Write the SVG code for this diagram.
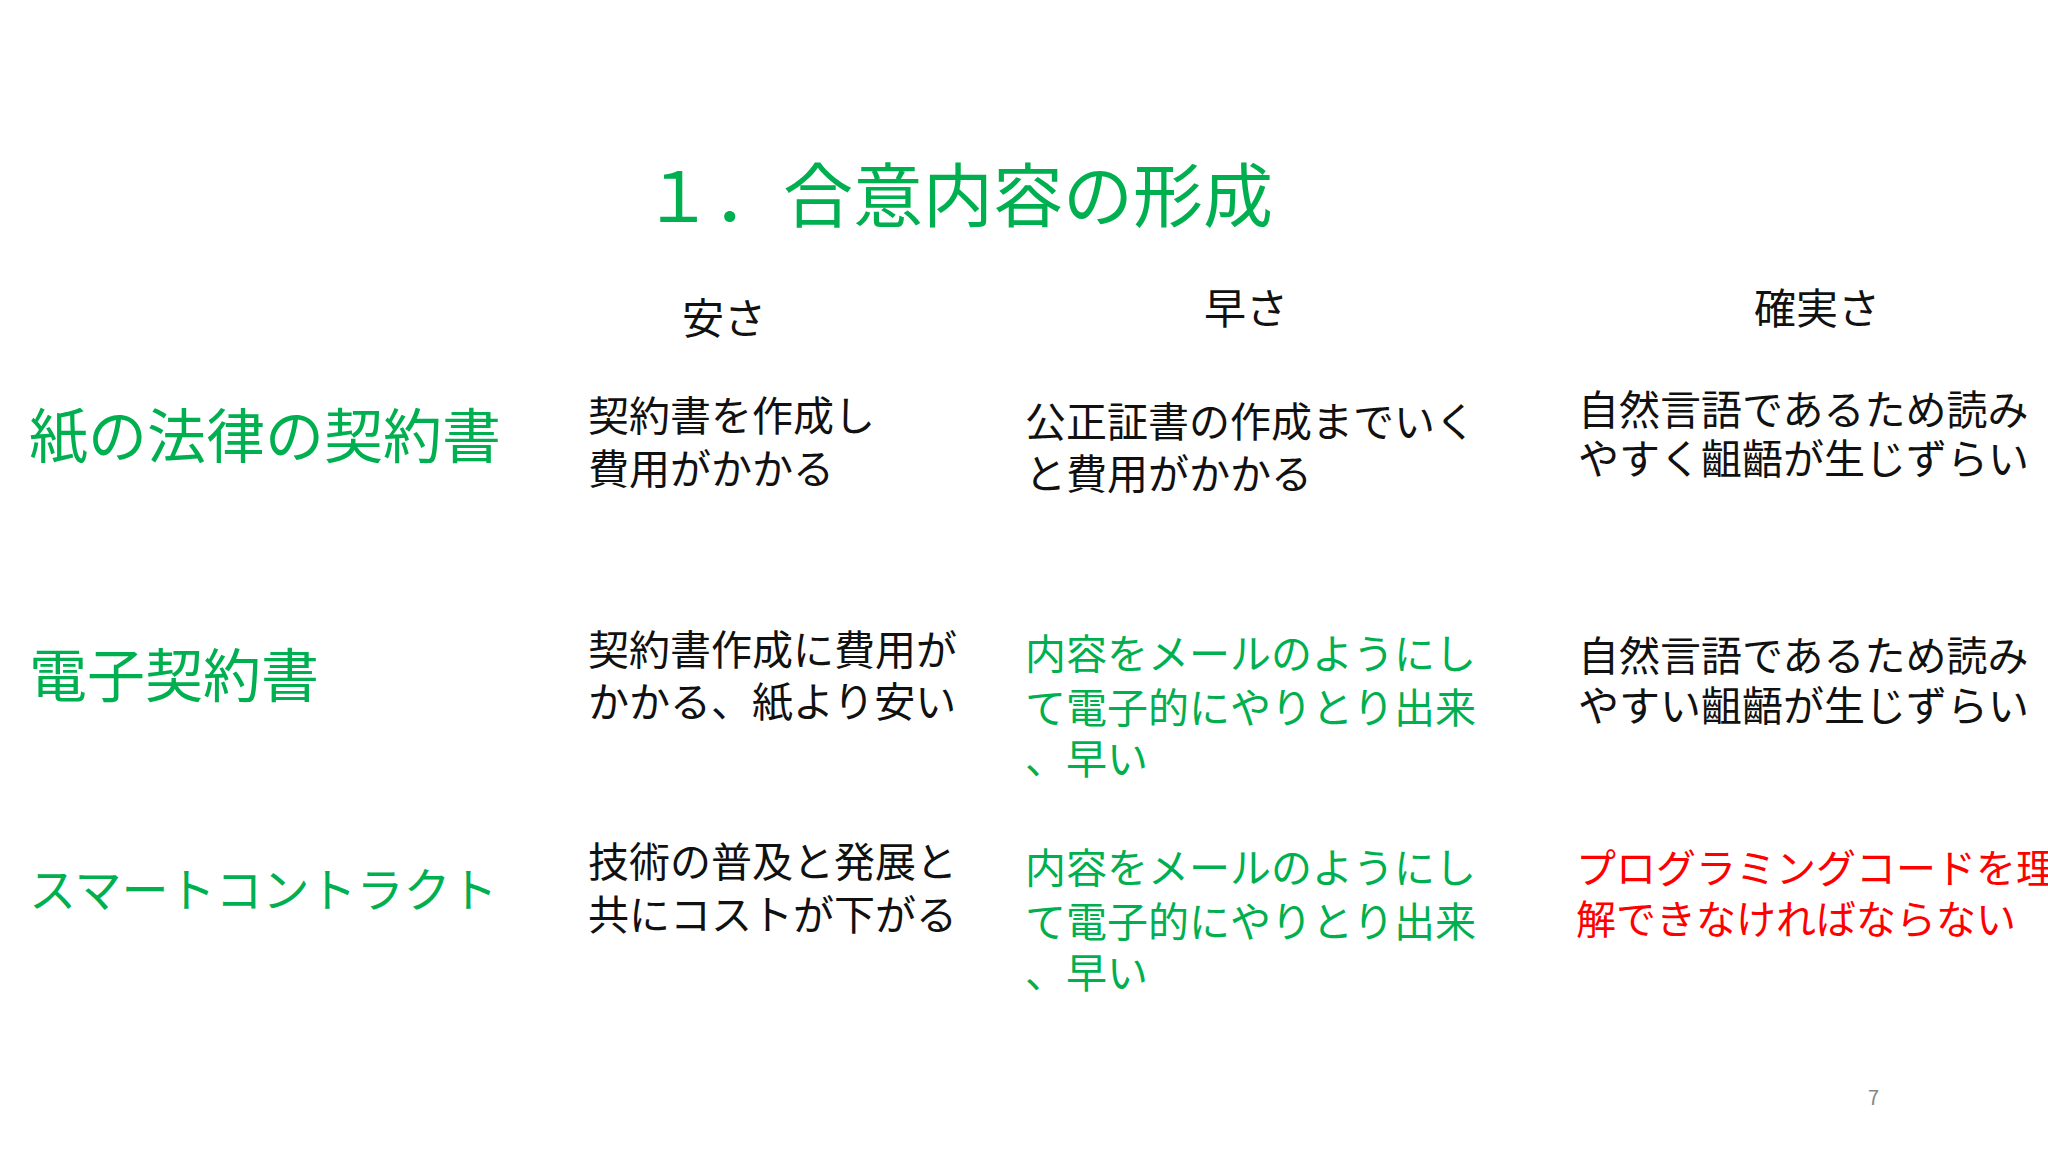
<svg xmlns="http://www.w3.org/2000/svg" width="2048" height="1151" viewBox="0 0 2048 1151">
<style>
text{font-family:"Noto Sans CJK JP","Noto Sans",sans-serif;}
.t{fill:#00B050;font-size:70px;}
.h{fill:#111;font-size:42px;}
.r{fill:#00B050;font-size:58px;}
.b{fill:#111;font-size:41px;}
.g{fill:#00B050;font-size:41px;}
.red{fill:#FF0000;font-size:40px;}
</style>
<rect width="2048" height="1151" fill="#fff"/>
<g id="title"><text class="t" x="643" y="222">１．合意内容の形成</text></g>
<g id="headers">
<text class="h" x="682" y="334">安さ</text>
<text class="h" x="1204" y="324">早さ</text>
<text class="h" x="1754" y="324">確実さ</text>
</g>
<g id="row1">
<text class="r" x="29" y="458" style="font-size:59px">紙の法律の契約書</text>
<text class="b" x="588" y="431">契約書を作成し</text>
<text class="b" x="588" y="484">費用がかかる</text>
<text class="b" x="1025" y="437">公正証書の作成までいく</text>
<text class="b" x="1025" y="489">と費用がかかる</text>
<text class="b" x="1578" y="425">自然言語であるため読み</text>
<text class="b" x="1578" y="474">やすく齟齬が生じずらい</text>
</g>
<g id="row2">
<text class="r" x="29" y="697">電子契約書</text>
<text class="b" x="588" y="665">契約書作成に費用が</text>
<text class="b" x="588" y="717">かかる、紙より安い</text>
<text class="g" x="1025" y="669">内容をメールのようにし</text>
<text class="g" x="1025" y="723">て電子的にやりとり出来</text>
<text class="g" x="1025" y="774">、早い</text>
<text class="b" x="1578" y="671">自然言語であるため読み</text>
<text class="b" x="1578" y="721">やすい齟齬が生じずらい</text>
</g>
<g id="row3">
<text class="r" x="29" y="907" style="font-size:47px">スマートコントラクト</text>
<text class="b" x="588" y="877">技術の普及と発展と</text>
<text class="b" x="588" y="930">共にコストが下がる</text>
<text class="g" x="1025" y="883">内容をメールのようにし</text>
<text class="g" x="1025" y="937">て電子的にやりとり出来</text>
<text class="g" x="1025" y="988">、早い</text>
<text class="red" x="1576" y="883">プログラミングコードを理</text>
<text class="red" x="1576" y="934">解できなければならない</text>
</g>
<g id="page"><text x="1868" y="1105" style="font-size:20px;fill:#888">7</text></g>
</svg>
